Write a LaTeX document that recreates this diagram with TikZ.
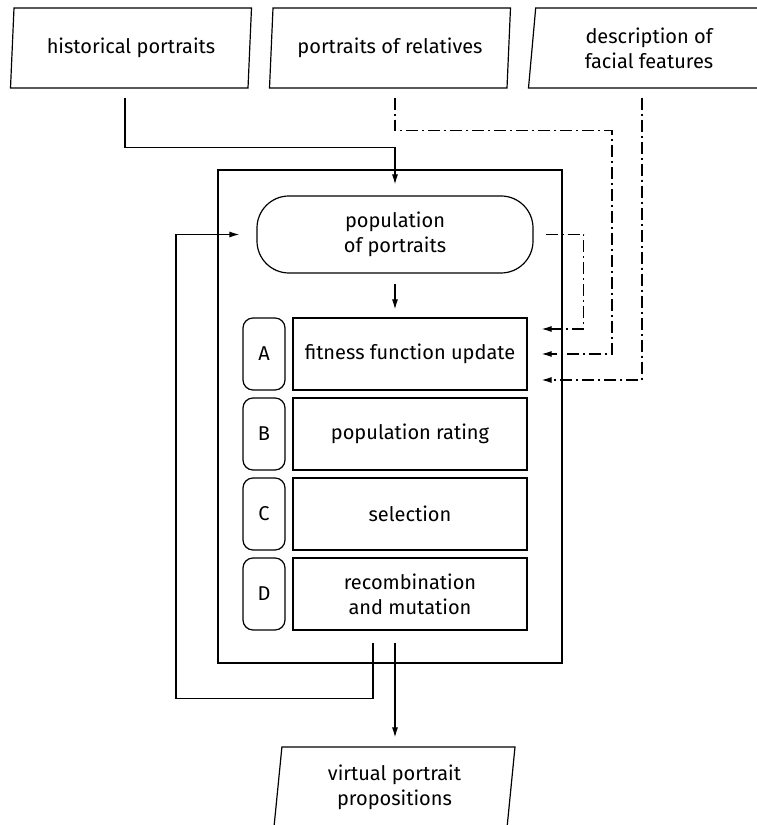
\documentclass[tikz,border=0pt]{standalone}
\usepackage{fontspec}
\setmainfont{Fira Sans}
\usetikzlibrary{shapes.geometric,arrows.meta,calc}

\begin{document}
\begin{tikzpicture}[x=1pt,y=1pt,line width=1.2pt,
  font=\fontsize{20}{25}\selectfont,
  data/.style={draw, trapezium, trapezium left angle=80, trapezium right angle=100,
    trapezium stretches body, minimum width=241pt, minimum height=80pt, align=center, inner sep=0pt},
  pill/.style={draw, rounded corners=32pt, minimum width=276pt, minimum height=77pt, align=center},
  stepbox/.style={draw, minimum width=234pt, minimum height=72pt, align=center},
  tag/.style={draw, rounded corners=10pt, minimum width=42pt, minimum height=72pt},
  arr/.style={-{Latex[length=10pt,width=6pt]}},
  dashdot/.style={arr, dash pattern=on 12pt off 4pt on 2pt off 4pt}]

\clip (0,0) rectangle (757,825);

% inputs
\node[data] (hist) at (131,777) {historical portraits};
\node[data] (rel) at (390,777) {portraits of relatives};
\node[data] (desc) at (649,777) {description of\\facial features};

% algorithm
\node[draw, minimum width=344pt, minimum height=493pt] (ga) at (390,408.5) {};
\node[pill] (pop) at (395,590.5) {population\\of portraits};

\node[tag] (a) at (264,471) {A};
\node[stepbox] (upd) at (410,471) {fitness function update};
\node[tag] (b) at (264,391) {B};
\node[stepbox] (rate) at (410,391) {population rating};
\node[tag] (c) at (264,311) {C};
\node[stepbox] (sel) at (410,311) {selection};
\node[tag] (d) at (264,231) {D};
\node[stepbox] (rec) at (410,231) {recombination\\and mutation};

% output
\node[data] (out) at (394.5,38) {virtual portrait\\propositions};

% connectors
\draw[arr, shorten <=9pt, shorten >=11pt] ([xshift=-6pt]hist.south) -- ++(0,-59) -| (pop.north);
\draw[dashdot, shorten <=9pt, shorten >=14pt] (pop |- rel.south) -- ++(0,-42) -- ++(217,0) |- (upd.east);
\draw[dashdot, shorten <=9pt, shorten >=14pt] ([xshift=-7pt]desc.south) |- ([yshift=-26pt]upd.east);
\draw[dashdot, shorten <=12pt, shorten >=14pt] (pop.east) -- ++(50,0) |- ([yshift=25pt]upd.east);
\draw[arr, shorten <=10pt, shorten >=8pt] (pop.south) -- (pop.south |- upd.north);

\draw[arr, shorten <=12pt, shorten >=17pt] ($(rec.south -| pop)+(-22,0)$) -- ++(0,-68) -- ++(-197,0) |- (pop.west);
\draw[arr, shorten <=12pt, shorten >=9pt] (rec.south -| pop) -- (pop |- out.north);

\end{tikzpicture}
\end{document}
